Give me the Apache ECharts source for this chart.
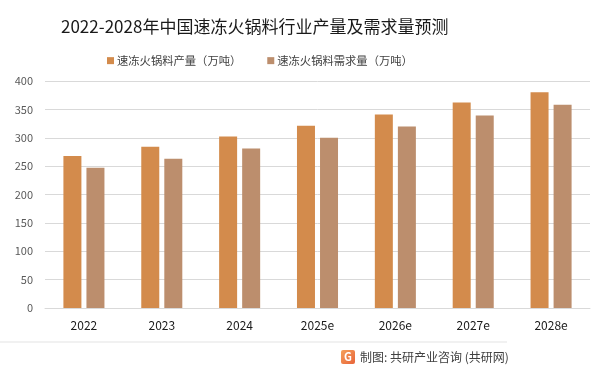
<!DOCTYPE html>
<html><head><meta charset="utf-8">
<script src="https://cdn.jsdelivr.net/npm/echarts@6/dist/echarts.min.js"></script>
<style>html,body{margin:0;padding:0;background:#fff}#c{width:602px;height:375px}</style>
</head><body><div id="c"></div>
<script>
const categories = ['2022','2023','2024','2025e','2026e','2027e','2028e'];
const production = [268, 284, 302, 321, 341, 362, 380];
const demand = [247, 263, 281, 300, 320, 339, 358];
const yTicks = [0, 50, 100, 150, 200, 250, 300, 350, 400];
const seriesNames = ['速冻火锅料产量（万吨）', '速冻火锅料需求量（万吨）'];
const titleText = '2022-2028年中国速冻火锅料行业产量及需求量预测';
const sourceText = '制图: 共研产业咨询 (共研网)';

const FONT = '"Noto Sans CJK SC", "Noto Sans", sans-serif';
const chart = echarts.init(document.getElementById('c'), null, {renderer:'canvas'});
chart.setOption({
  backgroundColor: '#fff',
  animation: false,
  textStyle: {fontFamily: FONT},
  title: {
    text: titleText, left: 56, top: 13,
    textStyle: {fontSize: 17, fontWeight: 'normal', color: '#1a1a1a', fontFamily: FONT}
  },
  legend: {
    left: 102, top: 50, itemWidth: 7, itemHeight: 7, itemGap: 26,
    icon: 'rect',
    textStyle: {fontSize: 11.3, color: '#404040', fontFamily: FONT, padding:[0,0,0,-2]},
    data: seriesNames
  },
  grid: {left: 45, right: 12, top: 81, bottom: 67, containLabel: false},
  xAxis: {
    type: 'category', data: categories,
    axisLine: {lineStyle: {color: '#D9D9D9'}},
    axisTick: {show: false},
    axisLabel: {fontSize: 12, color: '#1a1a1a', margin: 11, fontFamily: FONT}
  },
  yAxis: {
    type: 'value', min: yTicks[0], max: yTicks[yTicks.length-1], interval: 50,
    axisLine: {show: false}, axisTick: {show: false},
    axisLabel: {fontSize: 11, color: '#595959', margin: 12, fontFamily: FONT},
    splitLine: {lineStyle: {color: '#D9D9D9', width: 1}}
  },
  series: [
    {name: seriesNames[0], type: 'bar', data: production, barWidth: 18, barGap: '28%',
     itemStyle: {color: '#D38B4C'}},
    {name: seriesNames[1], type: 'bar', data: demand, barWidth: 18,
     itemStyle: {color: '#BC8E6D'}}
  ],
  graphic: [
    {type: 'line', shape: {x1: 0, y1: 342, x2: 507, y2: 342}, style: {stroke: '#E3E3E3', lineWidth: 1}},
    {type: 'rect', shape: {x: 341, y: 350, width: 14, height: 14, r: 2},
     style: {fill: new echarts.graphic.LinearGradient(0,0,1,1,[{offset:0,color:'#F5A05A'},{offset:1,color:'#E8643A'}])}},
    {type: 'text', style: {text: 'G', x: 348, y: 357, fontSize: 11, fontWeight: 'bold', fill: '#fff', align: 'center', verticalAlign: 'middle', fontFamily: FONT}},
    {type: 'text', style: {text: sourceText, x: 360, y: 357, fontSize: 12, fill: '#404040', verticalAlign: 'middle', fontFamily: FONT}}
  ]
});
</script></body></html>
